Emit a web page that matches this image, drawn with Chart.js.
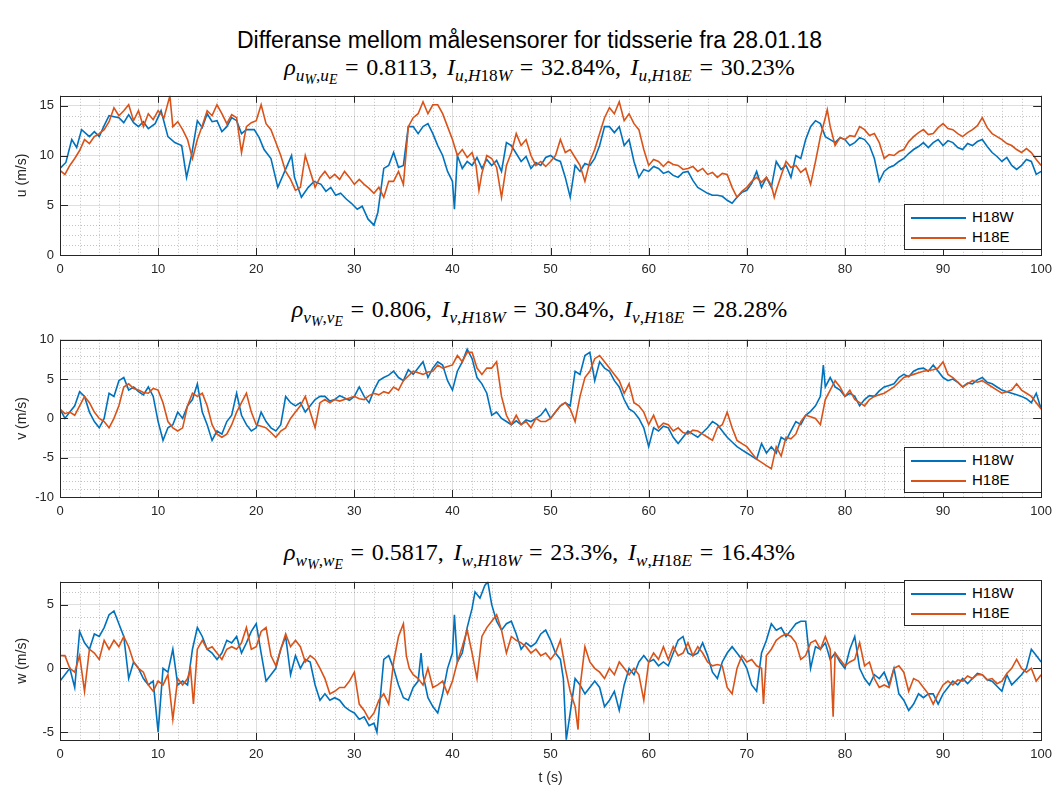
<!DOCTYPE html>
<html lang="no">
<head>
<meta charset="UTF-8">
<title>Differanse mellom målesensorer</title>
<script src="https://cdn.jsdelivr.net/npm/chart.js"></script>
<style>
  body { margin: 0; background: #fff; }
  #fig { position: relative; width: 1059px; height: 792px; overflow: hidden;
         font-family: "Liberation Sans", Arial, sans-serif; color: #000; }
  #fig canvas { position: absolute; left: 0; }
  .suptitle { position: absolute; left: 0; width: 1059px; top: 27px; line-height: 26px;
              text-align: center; font-size: 23px; }
  .axtitle { position: absolute; left: 20px; width: 1039px; line-height: 24px; text-align: center;
             font-family: "Liberation Serif", "Times New Roman", serif; font-size: 24px; white-space: nowrap; }
  .axtitle sub { font-size: 72%; vertical-align: -0.35em; line-height: 0; }
  .axtitle sub sub { font-size: 80%; vertical-align: -0.25em; }
  .axtitle .eq { padding: 0 0.32em; }
  .axtitle .cm { padding-right: 0.15em; }
  .legend { position: absolute; background: #fff; border: 1px solid #262626; padding: 2px 0;
            font-size: 15px; color: #000; }
  .legend div { height: 20px; line-height: 20px; white-space: nowrap; }
  .legend span.ln { display: inline-block; width: 55px; height: 2px;
                    vertical-align: middle; margin: 0 6px 0 6px; }
</style>
</head>
<body>
<div id="fig">
  <div class="suptitle">Differanse mellom målesensorer for tidsserie fra 28.01.18</div>

  <div class="axtitle" style="top:55px"><i>ρ</i><sub><i>u</i><sub><i>W</i></sub>,<i>u</i><sub><i>E</i></sub></sub><span class="eq">=</span>0.8113,<span class="cm"></span> <i>I</i><sub><i>u</i>,<i>H</i>18<i>W</i></sub><span class="eq">=</span>32.84%,<span class="cm"></span> <i>I</i><sub><i>u</i>,<i>H</i>18<i>E</i></sub><span class="eq">=</span>30.23%</div>
  <canvas id="cu" width="1059" height="201" style="top:82px"></canvas>
  <div class="legend" id="lgu" style="left:904px; top:204px; width:136px"></div>

  <div class="axtitle" style="top:297px"><i>ρ</i><sub><i>v</i><sub><i>W</i></sub>,<i>v</i><sub><i>E</i></sub></sub><span class="eq">=</span>0.806,<span class="cm"></span> <i>I</i><sub><i>v</i>,<i>H</i>18<i>W</i></sub><span class="eq">=</span>30.84%,<span class="cm"></span> <i>I</i><sub><i>v</i>,<i>H</i>18<i>E</i></sub><span class="eq">=</span>28.28%</div>
  <canvas id="cv" width="1059" height="199" style="top:326px"></canvas>
  <div class="legend" id="lgv" style="left:904px; top:447px; width:136px"></div>

  <div class="axtitle" style="top:540px"><i>ρ</i><sub><i>w</i><sub><i>W</i></sub>,<i>w</i><sub><i>E</i></sub></sub><span class="eq">=</span>0.5817,<span class="cm"></span> <i>I</i><sub><i>w</i>,<i>H</i>18<i>W</i></sub><span class="eq">=</span>23.3%,<span class="cm"></span> <i>I</i><sub><i>w</i>,<i>H</i>18<i>E</i></sub><span class="eq">=</span>16.43%</div>
  <canvas id="cw" width="1059" height="224" style="top:568px"></canvas>
  <div class="legend" id="lgw" style="left:904px; top:580px; width:136px"></div>
</div>

<script>
// series labels
const seriesNames = ['H18W', 'H18E'];

// tick values
const xMajor = [0, 10, 20, 30, 40, 50, 60, 70, 80, 90, 100];
const xMinor = [2, 4, 6, 8, 12, 14, 16, 18, 22, 24, 26, 28, 32, 34, 36, 38, 42, 44, 46, 48,
                52, 54, 56, 58, 62, 64, 66, 68, 72, 74, 76, 78, 82, 84, 86, 88, 92, 94, 96, 98];
const uTicks = [0, 5, 10, 15];
const vTicks = [-10, -5, 0, 5, 10];
const wTicks = [-5, 0, 5];

// u (m/s), [t, value]
const uW = [[0,8.7],[0.6,9.3],[1.2,11.6],[1.7,10.8],[2.2,12.6],[3,11.9],[3.5,12.4],[4,11.9],[4.5,13.0],[5,14.0],[6,13.8],[6.5,13.3],[7,14.1],[7.5,13.3],[8,12.9],[8.5,13.4],[9,12.7],[9.7,13.2],[10.3,14.5],[11,11.9],[11.7,11.3],[12.4,11.0],[12.9,7.8],[13.4,10.0],[14,13.5],[14.5,12.8],[15,14.2],[15.5,13.4],[16,13.5],[16.5,12.4],[17,12.9],[17.5,13.8],[18,13.5],[18.5,12.2],[19,12.6],[19.8,12.6],[20.3,11.8],[20.8,10.6],[21.5,9.7],[22.2,6.8],[22.9,8.4],[23.6,10.0],[23.9,7.8],[24.6,5.8],[25.3,6.8],[25.9,7.4],[26.6,7.1],[27.1,6.4],[27.6,6.8],[28.1,6.0],[28.6,6.2],[29.2,5.6],[29.7,5.2],[30.3,4.6],[30.8,4.9],[31.4,3.6],[32,3.0],[32.4,4.3],[33,8.7],[33.5,9.0],[34,10.3],[34.5,8.8],[35,9.0],[35.5,12.9],[36,12.9],[36.5,12.2],[37,12.9],[37.5,13.2],[38,12.2],[38.5,11.0],[39,10.0],[39.5,8.4],[40,7.4],[40.2,4.6],[40.5,10.0],[41,8.7],[41.5,9.4],[42,9.0],[42.5,9.8],[43,8.7],[43.5,9.6],[44,9.0],[44.5,9.5],[45,8.4],[45.5,11.3],[46,11.0],[46.5,10.2],[47,9.4],[47.5,9.9],[48,8.7],[48.5,9.3],[49,9.0],[49.5,9.8],[50,10.0],[50.5,9.6],[51,9.4],[51.5,7.8],[52,5.8],[52.5,9.0],[53,8.4],[53.5,9.2],[54,9.0],[54.5,9.7],[55,11.0],[55.5,12.9],[56,12.9],[56.5,12.3],[57,12.9],[57.5,11.0],[58,11.6],[58.5,9.4],[59,7.8],[59.5,8.6],[60,8.4],[60.5,8.9],[61,8.7],[61.5,8.2],[62,8.4],[62.5,8.0],[63,7.8],[63.5,8.3],[64,8.4],[64.5,7.5],[65,6.8],[65.5,6.5],[66,6.2],[66.5,6.0],[67,6.0],[67.5,5.9],[68,5.5],[68.5,5.2],[69,5.8],[69.5,6.3],[70,6.5],[70.5,7.2],[71,8.4],[71.5,6.8],[72,7.8],[72.5,6.8],[73,9.4],[73.5,8.6],[74,9.0],[74.5,7.8],[75,10.0],[75.5,9.7],[76,11.6],[76.5,12.9],[77,13.5],[77.5,13.2],[78,11.9],[78.5,11.6],[79,11.3],[79.5,11.8],[80,11.6],[80.5,11.0],[81,11.3],[81.5,11.8],[82,11.6],[82.5,11.0],[83,9.7],[83.5,7.4],[84,8.4],[84.5,8.8],[85,9.0],[85.5,9.4],[86,9.7],[86.5,10.2],[87,10.6],[87.5,10.9],[88,11.3],[88.5,10.8],[89,11.3],[89.5,11.6],[90,11.0],[90.5,11.5],[91,11.3],[91.5,10.8],[92,10.6],[92.5,11.2],[93,11.0],[93.5,11.4],[94,11.6],[94.5,10.9],[95,10.3],[95.5,9.9],[96,9.4],[96.5,9.8],[97,9.0],[97.5,8.6],[98,9.0],[98.5,9.6],[99,9.4],[99.5,8.1],[100,8.4]];
const uE = [[0,8.5],[0.5,8.1],[1,9.0],[1.5,9.7],[2,10.5],[2.5,11.6],[3,11.2],[3.5,11.9],[4,12.2],[4.5,12.6],[5,13.4],[5.5,14.8],[6,14.0],[6.5,14.5],[7,15.1],[7.5,13.5],[8,14.5],[8.5,12.9],[9,14.2],[9.5,13.6],[10,14.5],[10.6,13.8],[11.2,16.0],[11.5,12.9],[12,13.4],[12.5,12.6],[13,11.6],[13.5,9.7],[14,11.6],[14.5,13.0],[15,14.5],[15.5,14.0],[16,15.1],[16.5,14.2],[17,13.2],[17.5,14.1],[18,13.8],[18.5,10.3],[19,12.9],[19.5,13.3],[20,13.5],[20.5,15.1],[21,13.2],[21.5,12.6],[22,11.3],[22.5,10.0],[23,8.4],[23.5,7.6],[24,6.5],[24.5,6.8],[25,10.0],[25.5,8.4],[26,6.8],[26.5,7.8],[27,8.4],[27.5,7.7],[28,8.1],[28.5,7.6],[29,8.4],[29.5,7.8],[30,7.1],[30.5,7.6],[31,7.1],[31.5,6.7],[32,6.2],[32.5,6.8],[33,5.8],[33.5,7.4],[34,7.4],[34.5,8.4],[35,7.1],[35.5,12.9],[36,13.8],[36.5,14.2],[37,15.4],[37.5,14.2],[38,15.1],[38.5,15.1],[39,14.2],[39.5,12.9],[40,11.6],[40.5,10.0],[41,10.6],[41.5,9.8],[42,10.3],[42.4,9.0],[42.7,6.5],[43,8.2],[43.5,10.0],[44,9.7],[44.5,8.8],[45,5.8],[45.5,9.0],[46,10.3],[46.5,12.2],[47,11.0],[47.5,11.6],[48,10.0],[48.5,9.0],[49,9.4],[49.5,8.9],[50,9.4],[50.5,10.0],[51,11.6],[51.5,10.3],[52,10.6],[52.5,9.8],[53,9.0],[53.5,7.4],[54,9.4],[54.5,10.6],[55,12.2],[55.5,13.8],[56,14.8],[56.5,14.2],[57,15.4],[57.5,13.5],[58,14.2],[58.5,13.2],[59,12.6],[59.5,10.6],[60,9.0],[60.5,9.6],[61,9.4],[61.5,8.9],[62,9.4],[62.5,9.1],[63,9.0],[63.5,8.6],[64,8.7],[64.5,8.9],[65,8.4],[65.5,8.7],[66,8.1],[66.5,8.3],[67,7.8],[67.5,8.2],[68,8.1],[68.5,6.8],[69,5.8],[69.5,6.4],[70,6.8],[70.5,7.4],[71,7.8],[71.5,7.3],[72,7.8],[72.5,7.0],[72.8,5.8],[73,6.5],[73.5,8.0],[74,9.4],[74.5,8.8],[75,9.0],[75.5,8.3],[76,8.7],[76.5,7.1],[77,9.4],[77.5,11.9],[78,13.8],[78.2,14.6],[78.5,12.9],[79,11.0],[79.5,11.8],[80,11.6],[80.5,12.0],[81,11.9],[81.5,12.9],[82,12.6],[82.5,12.0],[83,12.2],[83.5,11.3],[84,9.7],[84.5,10.1],[85,10.0],[85.5,10.4],[86,10.6],[86.5,11.4],[87,11.9],[87.5,12.3],[88,12.6],[88.5,12.1],[89,12.2],[89.5,12.8],[90,13.2],[90.5,12.7],[91,12.6],[91.5,12.2],[92,11.9],[92.5,12.3],[93,12.6],[93.5,13.0],[94,13.8],[94.5,12.8],[95,12.2],[95.5,11.9],[96,11.6],[96.5,11.2],[97,11.0],[97.5,10.6],[98,10.3],[98.5,10.7],[99,10.3],[99.5,9.6],[100,9.0]];

// v (m/s), [t, value]
const vW = [[0,1.2],[0.5,0],[1,0.8],[1.5,1.6],[2,3.4],[2.5,2.8],[3,0.8],[3.5,-0.4],[4,-1.2],[4.5,0],[5,3.2],[5.5,2.8],[6,4.8],[6.5,5.2],[7,3.6],[7.5,4.0],[8,3.4],[8.5,3.0],[9,4.0],[9.5,2.8],[10,-0.4],[10.5,-2.8],[11,-1.2],[11.5,-0.8],[12,0.8],[12.5,0],[13,1.6],[13.5,2.4],[14,4.4],[14.5,0.8],[15,-0.8],[15.5,-2.8],[16,-1.6],[16.5,-2.0],[17,-0.4],[17.5,0.4],[18,3.2],[18.5,0.4],[19,-0.8],[19.5,-1.6],[20,-1.2],[20.5,0.8],[21,-0.4],[21.5,-1.2],[22,-1.6],[22.5,-0.8],[23,2.8],[23.5,2.0],[24,1.6],[24.5,2.0],[25,0.8],[25.5,1.6],[26,2.4],[26.5,2.8],[27,2.8],[27.5,2.2],[28,2.4],[28.5,2.9],[29,2.6],[29.5,2.3],[30,2.8],[30.5,4.0],[31,2.8],[31.5,2.0],[32,3.6],[32.5,4.8],[33,5.2],[33.5,5.5],[34,6.0],[34.5,5.2],[35,4.8],[35.5,6.2],[36,5.6],[36.5,6.4],[37,7.2],[37.5,5.2],[38,6.4],[38.5,7.2],[39,6.8],[39.5,4.8],[40,3.6],[40.5,6.0],[41,7.2],[41.5,8.8],[42,7.6],[42.5,5.2],[43,4.4],[43.5,3.2],[44,0.4],[44.5,0.8],[45,0],[45.5,-0.4],[46,-0.8],[46.5,-0.3],[47,-0.8],[47.5,-0.2],[48,-0.4],[48.5,0],[49,0.4],[49.5,1.2],[50,0],[50.5,0.8],[51,1.6],[51.5,2.0],[52,1.6],[52.5,6.0],[53,5.6],[53.5,8.0],[54,8.4],[54.5,4.8],[55,7.2],[55.5,6.4],[56,6.0],[56.5,4.8],[57,4.0],[57.5,2.4],[58,1.2],[58.5,0.8],[59,0],[59.5,-1.2],[60,-3.6],[60.5,-1.2],[61,-1.6],[61.5,-1.0],[62,-1.2],[62.5,-2.4],[63,-3.2],[63.5,-2.4],[64,-1.6],[64.5,-2.0],[65,-2.4],[65.5,-1.8],[66,-1.2],[66.5,-0.4],[67,-0.8],[67.5,-1.6],[68,-2.4],[68.5,-3.0],[69,-3.6],[69.5,-4.0],[70,-4.4],[70.5,-4.8],[71,-5.2],[71.5,-3.2],[72,-4.4],[72.5,-3.6],[73,-4.4],[73.5,-2.4],[74,-2.8],[74.5,-1.6],[75,-0.4],[75.5,-0.8],[76,0.4],[76.5,0.9],[77,1.6],[77.5,2.8],[77.8,6.8],[78,4.0],[78.5,5.2],[79,4.0],[79.5,3.6],[80,2.8],[80.5,3.2],[81,2.8],[81.5,1.6],[82,2.4],[82.5,2.9],[83,2.8],[83.5,3.5],[84,4.0],[84.5,4.2],[85,4.4],[85.5,5.2],[86,5.6],[86.5,5.3],[87,6.0],[87.5,6.3],[88,6.4],[88.5,6.0],[89,6.8],[89.5,6.0],[90,5.2],[90.5,4.8],[91,5.0],[91.5,4.6],[92,4.0],[92.5,4.5],[93,4.4],[93.5,4.9],[94,5.2],[94.5,4.6],[95,4.4],[95.5,4.0],[96,3.6],[96.5,3.4],[97,3.2],[97.5,3.0],[98,2.8],[98.5,2.5],[99,2.0],[99.5,3.2],[100,1.2]];
const vE = [[0,1.2],[0.5,0.6],[1,0.8],[1.5,0.4],[2,1.6],[2.5,2.8],[3,2.0],[3.5,0.8],[4,0],[4.5,-0.4],[5,-1.2],[5.5,0],[6,1.6],[6.5,4.0],[7,4.4],[7.5,3.8],[8,3.6],[8.5,3.3],[9,3.2],[9.5,3.8],[10,3.6],[10.5,2.0],[11,-0.4],[11.5,-1.2],[12,-1.6],[12.5,-1.2],[13,1.6],[13.5,3.2],[14,2.8],[14.5,3.2],[15,1.6],[15.5,-0.8],[16,-2.0],[16.5,-2.4],[17,-2.0],[17.5,-0.8],[18,0.8],[18.5,2.0],[19,3.2],[19.5,0.8],[20,-0.8],[20.5,-1.0],[21,-1.2],[21.5,-1.8],[22,-2.4],[22.5,-1.6],[23,-1.2],[23.5,0],[24,0.8],[24.5,1.6],[25,2.8],[25.5,0.8],[26,-1.2],[26.5,2.0],[27,2.4],[27.5,2.0],[28,2.4],[28.5,2.2],[29,2.4],[29.5,2.6],[30,2.8],[30.5,2.5],[31,2.4],[31.5,2.9],[32,3.2],[32.5,3.0],[33,3.4],[33.5,3.2],[34,4.0],[34.5,3.6],[35,4.8],[35.5,5.4],[36,6.0],[36.5,5.8],[37,5.6],[37.5,5.9],[38,6.0],[38.5,6.8],[39,6.4],[39.5,6.6],[40,6.8],[40.5,8.0],[41,7.2],[41.5,8.4],[42,8.4],[42.5,6.4],[43,5.6],[43.5,6.4],[44,6.4],[44.5,7.2],[45,2.8],[45.5,0.4],[46,-0.8],[46.5,0.4],[47,-0.8],[47.5,-0.4],[48,-1.2],[48.5,0],[49,-0.4],[49.5,-0.4],[50,0],[50.5,0.8],[51,1.6],[51.5,2.0],[52,1.2],[52.5,-0.4],[53,2.8],[53.5,5.2],[54,6.0],[54.5,7.6],[55,8.0],[55.5,7.2],[56,6.4],[56.5,5.6],[57,4.8],[57.5,3.2],[58,4.4],[58.5,2.0],[59,1.6],[59.5,0.8],[60,-0.8],[60.5,0.4],[61,-1.2],[61.5,-0.6],[62,-0.8],[62.5,-1.6],[63,-1.2],[63.5,-1.8],[64,-2.0],[64.5,-1.5],[65,-1.6],[65.5,-2.0],[66,-2.4],[66.5,-2.8],[67,-1.2],[67.5,-0.8],[68,0.8],[68.5,-1.2],[69,-2.8],[69.5,-3.2],[70,-3.6],[70.5,-4.4],[71,-5.2],[71.5,-5.6],[72,-6.0],[72.5,-6.4],[73,-3.6],[73.5,-4.8],[74,-2.4],[74.5,-2.6],[75,-2.0],[75.5,-0.4],[76,0.4],[76.5,0.2],[77,0],[77.5,-0.8],[78,2.4],[78.5,3.6],[79,4.8],[79.5,4.0],[80,2.8],[80.5,3.6],[81,2.4],[81.5,2.0],[82,1.6],[82.5,2.4],[83,2.8],[83.5,3.0],[84,3.2],[84.5,3.6],[85,4.0],[85.5,4.6],[86,5.2],[86.5,5.4],[87,5.6],[87.5,5.8],[88,6.0],[88.5,6.1],[89,6.2],[89.5,6.4],[90,7.2],[90.5,5.6],[91,5.2],[91.5,4.6],[92,4.0],[92.5,4.4],[93,4.8],[93.5,4.6],[94,4.8],[94.5,4.4],[95,4.0],[95.5,3.6],[96,3.2],[96.5,3.4],[97,3.6],[97.5,4.4],[98,3.6],[98.5,3.2],[99,2.8],[99.5,2.0],[100,1.2]];

// w (m/s), [t, value]
const wW = [[0,-1.0],[0.5,-0.5],[1,0],[1.5,-1.5],[2,2.9],[2.5,2.0],[3,1.5],[3.5,2.7],[4,2.5],[4.5,3.2],[5,4.2],[5.5,4.5],[6,3.5],[6.5,2.5],[7,-0.8],[7.5,0.5],[8,0],[8.5,-0.8],[9,-1.3],[9.5,-1.0],[10,-5.0],[10.5,0],[11,-0.3],[11.5,1.5],[12,-1.3],[12.5,-1.0],[13,-1.3],[13.5,1.5],[14,3.2],[14.5,2.5],[15,1.5],[15.5,1.2],[16,0.7],[16.5,1.2],[17,2.2],[17.5,2.0],[18,2.5],[18.5,1.2],[19,2.0],[19.5,2.9],[20,3.5],[20.5,1.2],[21,-1.0],[21.5,-0.5],[22,0],[22.5,1.5],[23,2.5],[23.5,-0.5],[24,1.0],[24.5,0],[25,0.7],[25.5,0.5],[26,-1.3],[26.5,-2.5],[27,-2.0],[27.5,-2.5],[28,-2.3],[28.5,-2.5],[29,-3.0],[29.5,-3.3],[30,-3.5],[30.5,-4.0],[31,-3.8],[31.5,-4.5],[32,-4.3],[32.3,-5.0],[32.5,-3.5],[33,0.7],[33.5,1.0],[34,0],[34.5,-1.3],[35,-2.3],[35.5,-2.5],[36,-1.5],[36.5,-1.0],[36.8,1.2],[37,-0.5],[37.5,-2.3],[38,-3.0],[38.5,-3.5],[39,-2.0],[39.5,0],[40,1.2],[40.2,4.2],[40.5,0.5],[41,1.2],[41.5,3.2],[42,4.7],[42.3,6.0],[42.8,5.5],[43.3,6.5],[43.6,6.8],[44,5.0],[44.5,3.7],[45,3.0],[45.5,3.5],[46,3.7],[46.5,2.7],[47,1.5],[47.5,2.0],[48,1.7],[48.5,2.0],[49,2.7],[49.5,3.0],[50,2.2],[50.5,1.2],[51,0.7],[51.3,-0.8],[51.6,-5.6],[52,-3.5],[52.5,-0.8],[53,-1.3],[53.5,-2.0],[54,-1.5],[54.5,-1.0],[55,-1.5],[55.5,-3.0],[56,-2.5],[56.5,-1.8],[57,-3.3],[57.5,-1.3],[58,0],[58.5,-0.5],[59,0.5],[59.5,1.0],[60,0.5],[60.5,0.7],[61,0.2],[61.5,0.5],[62,0.2],[62.5,1.2],[63,2.2],[63.5,2.5],[64,1.2],[64.5,1.0],[65,1.2],[65.5,2.0],[66,1.0],[66.5,-0.3],[67,-0.8],[67.5,0.5],[68,1.2],[68.5,1.7],[69,1.2],[69.5,0.7],[70,0],[70.5,-1.3],[71,-1.8],[71.5,1.2],[72,2.2],[72.5,3.5],[73,3.0],[73.5,3.2],[74,2.5],[74.5,3.0],[75,3.5],[75.5,3.7],[76,3.7],[76.5,0],[77,1.7],[77.5,1.5],[78,2.0],[78.5,0.7],[79,1.2],[79.5,0.5],[80,0],[80.5,1.5],[81,2.5],[81.5,0],[82,-0.8],[82.5,-1.3],[83,-0.5],[83.5,-0.8],[84,-0.3],[84.5,-1.3],[85,0],[85.5,-2.0],[86,-2.5],[86.5,-3.3],[87,-2.8],[87.5,-2.0],[88,-2.3],[88.5,-2.0],[89,-2.0],[89.5,-2.8],[90,-2.0],[90.5,-1.5],[91,-1.0],[91.5,-1.3],[92,-0.8],[92.5,-1.2],[93,-0.8],[93.5,-0.4],[94,-0.5],[94.5,-0.9],[95,-1.0],[95.5,-1.4],[96,-1.8],[96.5,-0.5],[97,-1.3],[97.5,-0.9],[98,-0.5],[98.5,0],[99,1.5],[99.5,1.0],[100,0.5]];
const wE = [[0,1.0],[0.5,1.0],[1,0],[1.5,-0.3],[2,1.0],[2.5,-1.8],[3,1.5],[3.5,1.2],[4,0.7],[4.5,2.2],[5,1.5],[5.5,2.2],[6,1.7],[6.5,2.5],[7,1.7],[7.5,0.5],[8,0],[8.5,-0.3],[9,-1.3],[9.5,-1.8],[10,-1.0],[10.5,-1.3],[11,-0.5],[11.5,-4.0],[12,-0.8],[12.5,-1.3],[13,-0.8],[13.3,0],[13.6,-2.8],[14,1.5],[14.5,2.2],[15,1.5],[15.5,1.7],[16,1.2],[16.5,0.7],[17,1.5],[17.5,1.7],[18,1.5],[18.5,2.0],[19,3.2],[19.5,1.5],[20,1.7],[20.5,2.9],[21,3.2],[21.5,1.0],[22,0.2],[22.5,1.5],[23,2.7],[23.5,1.7],[24,2.2],[24.5,1.7],[25,0.5],[25.5,1.0],[26,0.7],[26.5,0],[27,-0.8],[27.5,-2.0],[28,-1.8],[28.5,-1.5],[29,-1.5],[29.5,-1.0],[30,-0.3],[30.5,-2.8],[31,-3.3],[31.5,-4.0],[32,-3.5],[32.5,-2.5],[33,-2.0],[33.5,-2.8],[34,0.5],[34.5,2.5],[35,3.5],[35.3,1.0],[35.6,0],[36,-0.5],[36.5,-0.8],[37,-1.3],[37.5,0],[38,-1.5],[38.5,-1.3],[39,-1.0],[39.5,-2.0],[40,-1.0],[40.5,0.5],[41,1.7],[41.5,3.0],[42,1.2],[42.5,-0.8],[43,2.5],[43.5,3.2],[44,3.7],[44.5,4.2],[45,3.0],[45.5,1.2],[46,2.5],[46.5,2.2],[47,2.0],[47.5,1.7],[48,1.2],[48.5,1.5],[49,1.0],[49.5,1.2],[50,0.7],[50.5,1.2],[51,2.2],[51.5,0],[52,-1.8],[52.5,-3.0],[52.8,-4.8],[53,-1.5],[53.5,1.7],[54,0.5],[54.5,0],[55,-0.3],[55.5,-0.8],[56,0],[56.5,-0.5],[57,0.5],[57.5,0],[58,-0.5],[58.5,0],[59,-0.5],[59.5,-2.5],[60,0.5],[60.5,1.2],[61,0.7],[61.5,1.7],[62,0.7],[62.5,1.7],[63,1.0],[63.5,1.2],[64,2.0],[64.5,1.0],[65,1.7],[65.5,1.2],[66,0.5],[66.5,0.2],[67,0.3],[67.5,0.2],[68,-1.5],[68.5,-2.0],[69,0],[69.5,1.0],[70,0.5],[70.5,0.7],[71,0.2],[71.5,0],[71.7,-2.8],[72,1.0],[72.5,1.5],[73,2.2],[73.5,2.5],[74,2.7],[74.5,2.5],[75,2.0],[75.5,0.7],[76,1.0],[76.5,2.0],[77,2.2],[77.5,1.5],[78,2.5],[78.5,1.5],[78.8,-3.8],[79,1.2],[79.5,0.7],[80,0.2],[80.5,0.5],[81,0.7],[81.5,2.0],[82,0.2],[82.5,0.5],[83,-0.8],[83.5,-1.5],[84,-1.3],[84.5,-1.5],[85,0],[85.5,0.2],[86,-0.3],[86.5,-1.8],[87,-0.8],[87.5,-1.0],[88,-1.5],[88.5,-2.0],[89,-2.8],[89.5,-2.0],[90,-1.3],[90.5,-1.0],[91,-1.3],[91.5,-0.9],[92,-1.0],[92.5,-0.6],[93,-0.8],[93.5,-0.5],[94,-0.5],[94.5,-0.9],[95,-0.8],[95.5,-1.2],[96,-1.0],[96.5,-0.4],[97,0],[97.5,0.7],[98,0],[98.5,-0.3],[99,0],[99.5,-1.0],[100,-0.5]];

const BLUE = '#0072BD';
const ORANGE = '#D95319';
const AXIS = '#262626';
const GRID = 'rgba(38,38,38,0.15)';
const MINOR = 'rgba(38,38,38,0.28)';
const TICK_FONT = { family: '"Liberation Sans", Arial, sans-serif', size: 13 };

const toXY = pts => pts.map(p => ({ x: p[0], y: p[1] }));

// MATLAB-style box: dotted minor grid, full border and inward ticks
const matlabAxes = {
  id: 'matlabAxes',
  beforeDatasetsDraw(chart, args, opts) {
    const { ctx, chartArea: a, scales: { x, y } } = chart;
    ctx.save();
    ctx.strokeStyle = MINOR;
    ctx.lineWidth = 1;
    ctx.setLineDash([1, 2]);
    ctx.beginPath();
    xMinor.forEach(v => {
      const px = Math.round(x.getPixelForValue(v)) + 0.5;
      ctx.moveTo(px, a.top); ctx.lineTo(px, a.bottom);
    });
    opts.yMinor.forEach(v => {
      const py = Math.round(y.getPixelForValue(v)) + 0.5;
      ctx.moveTo(a.left, py); ctx.lineTo(a.right, py);
    });
    ctx.stroke();
    ctx.restore();
  },
  afterDraw(chart, args, opts) {
    const { ctx, chartArea: a, scales: { x, y } } = chart;
    ctx.save();
    ctx.strokeStyle = AXIS;
    ctx.lineWidth = 1;
    ctx.beginPath();
    xMajor.forEach(v => {
      const px = Math.round(x.getPixelForValue(v)) + 0.5;
      ctx.moveTo(px, a.bottom); ctx.lineTo(px, a.bottom - 7);
      ctx.moveTo(px, a.top); ctx.lineTo(px, a.top + 7);
    });
    opts.yMajor.forEach(v => {
      const py = Math.round(y.getPixelForValue(v)) + 0.5;
      ctx.moveTo(a.left, py); ctx.lineTo(a.left + 8, py);
      ctx.moveTo(a.right, py); ctx.lineTo(a.right - 8, py);
    });
    ctx.stroke();
    ctx.strokeRect(Math.round(a.left) + 0.5, Math.round(a.top) + 0.5,
                   Math.round(a.right - a.left), Math.round(a.bottom - a.top));
    ctx.restore();
  }
};

function makePanel(id, cfg) {
  const chart = new Chart(document.getElementById(id), {
    type: 'line',
    data: {
      datasets: [
        { label: seriesNames[0], data: toXY(cfg.west), borderColor: BLUE, borderWidth: 1.6,
          pointRadius: 0, tension: 0, order: 1 },
        { label: seriesNames[1], data: toXY(cfg.east), borderColor: ORANGE, borderWidth: 1.6,
          pointRadius: 0, tension: 0, order: 0 }
      ]
    },
    options: {
      responsive: false,
      animation: false,
      devicePixelRatio: 1,
      layout: { padding: { top: 6, right: 16, left: 0, bottom: 0 } },
      plugins: {
        legend: { display: false },
        tooltip: { enabled: false },
        matlabAxes: { yMajor: cfg.yTicks, yMinor: cfg.yMinor }
      },
      scales: {
        x: {
          type: 'linear', min: 0, max: 100,
          afterBuildTicks: ax => { ax.ticks = xMajor.map(v => ({ value: v })); },
          afterFit: ax => { ax.height = cfg.xh; },
          grid: { color: GRID, drawTicks: false },
          border: { display: false },
          ticks: { color: AXIS, font: TICK_FONT, padding: 7, maxRotation: 0 },
          title: { display: !!cfg.xTitle, text: cfg.xTitle || '', color: AXIS,
                   font: { family: TICK_FONT.family, size: 14 }, padding: { top: 0, bottom: 5 } }
        },
        y: {
          type: 'linear', min: cfg.min, max: cfg.max,
          afterBuildTicks: ax => { ax.ticks = cfg.yTicks.map(v => ({ value: v })); },
          afterFit: ax => { ax.width = 60; },
          grid: { color: GRID, drawTicks: false },
          border: { display: false },
          ticks: { color: AXIS, font: TICK_FONT, padding: 6 },
          title: { display: true, text: cfg.yTitle, color: AXIS,
                   font: { family: TICK_FONT.family, size: 14 }, padding: { top: 14, bottom: 0 } }
        }
      }
    },
    plugins: [matlabAxes]
  });

  // legend built from the datasets
  const box = document.getElementById(cfg.legend);
  chart.data.datasets.forEach(ds => {
    const row = document.createElement('div');
    const ln = document.createElement('span');
    ln.className = 'ln';
    ln.style.background = ds.borderColor;
    row.appendChild(ln);
    row.appendChild(document.createTextNode(ds.label));
    box.appendChild(row);
  });
  return chart;
}

makePanel('cu', { west: uW, east: uE, min: 0, max: 16, yTicks: uTicks,
  yMinor: [1, 2, 3, 4, 6, 7, 8, 9, 11, 12, 13, 14, 16], yTitle: 'u (m/s)', xh: 28, legend: 'lgu' });
makePanel('cv', { west: vW, east: vE, min: -10, max: 10, yTicks: vTicks,
  yMinor: [-9, -8, -7, -6, -4, -3, -2, -1, 1, 2, 3, 4, 6, 7, 8, 9], yTitle: 'v (m/s)', xh: 28, legend: 'lgv' });
makePanel('cw', { west: wW, east: wE, min: -5.62, max: 6.79, yTicks: wTicks,
  yMinor: [-4, -3, -2, -1, 1, 2, 3, 4, 6], yTitle: 'w (m/s)', xh: 52, xTitle: 't (s)', legend: 'lgw' });
</script>
</body>
</html>
